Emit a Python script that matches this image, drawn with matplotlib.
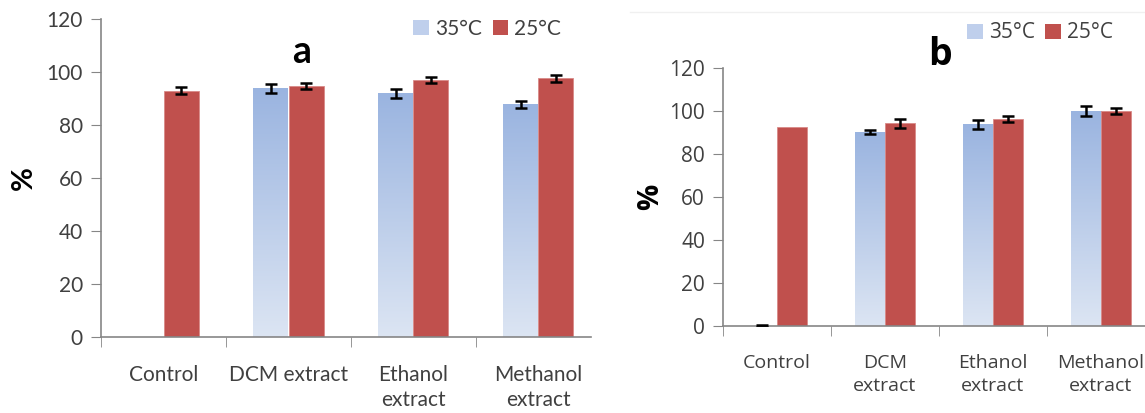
import numpy as np
import matplotlib
matplotlib.use("Agg")
from matplotlib import pyplot as plt
from matplotlib.colors import LinearSegmentedColormap
from matplotlib.patches import Patch
from matplotlib.lines import Line2D

labels_a = ["Control", "DCM extract", "Ethanol\nextract", "Methanol\nextract"]
labels_b = ["Control", "DCM\nextract", "Ethanol\nextract", "Methanol\nextract"]
series = ["35°C", "25°C"]

# panel a
a_35 = [np.nan, 93.8, 92.0, 87.8]
a_35_err = [np.nan, 1.7, 1.7, 1.3]
a_25 = [92.9, 94.7, 96.9, 97.6]
a_25_err = [1.3, 1.2, 1.2, 1.2]

# panel b
b_35 = [0.0, 90.1, 93.8, 99.8]
b_35_err = [0.6, 0.9, 2.1, 2.3]
b_25 = [92.6, 94.3, 96.3, 100.0]
b_25_err = [0.0, 2.0, 1.3, 1.3]

RED = "#C0504D"
TXT = "#404040"
AXC = "#868686"
blue_grad = LinearSegmentedColormap.from_list("bg", ["#DCE5F3", "#9AB4E0"])
W = 0.28


def gradient_bars(ax, bars):
    grad = np.linspace(0, 1, 256).reshape(-1, 1)
    for p in bars.patches:
        h = p.get_height()
        if not np.isfinite(h) or h <= 0:
            continue
        x0 = p.get_x()
        im = ax.imshow(grad, extent=(x0, x0 + p.get_width(), 0, h), origin="lower",
                       aspect="auto", cmap=blue_grad, zorder=2)
        im.set_clip_path(p)
        p.set_facecolor("none")


def panel(ax, labels, v35, e35, v25, e25, font, fs, letter, letter_xy, leg_xy, xmax,
          xpad, ypad):
    x = np.arange(len(labels))
    b1 = ax.bar(x - W / 2, v35, W, color="#BCCCEA", zorder=2)
    gradient_bars(ax, b1)
    ax.bar(x + W / 2, v25, W, color=RED, edgecolor="#D98A88", linewidth=0.6, zorder=2)
    ekw = dict(fmt="none", ecolor="black", elinewidth=1.8, capsize=4.5, capthick=1.8, zorder=4)
    ax.errorbar(x - W / 2, v35, yerr=e35, **ekw)
    e25 = np.array(e25, dtype=float)
    m = e25 > 0
    ax.errorbar((x + W / 2)[m], np.array(v25)[m], yerr=e25[m], **ekw)

    ax.set_xlim(-0.5, xmax)
    ax.set_ylim(0, 120)
    ax.set_yticks(np.arange(0, 121, 20))
    ax.set_xticks(x)
    ax.set_xticklabels(labels, fontsize=fs, color=TXT, family=font, linespacing=1.35)
    ax.set_xticks(np.arange(-0.5, len(labels) - 0.5, 1), minor=True)
    ax.tick_params(axis="x", which="major", length=0, pad=xpad)
    ax.tick_params(axis="x", which="minor", length=7, color=AXC, direction="out")
    ax.tick_params(axis="y", length=7, color=AXC, labelsize=15, labelcolor=TXT, pad=6)
    for t in ax.get_yticklabels():
        t.set_family(font)
    for s in ["top", "right"]:
        ax.spines[s].set_visible(False)
    for s in ["left", "bottom"]:
        ax.spines[s].set_color(AXC)
        ax.spines[s].set_linewidth(1.2)
    ax.set_ylabel("%", fontsize=21, fontweight="bold", family=font, labelpad=ypad)

    fig.text(letter_xy[0], letter_xy[1], letter, fontsize=27, fontweight="bold",
             family=font, ha="center", va="center")
    handles = [Patch(facecolor="#BFCFEC"), Patch(facecolor=RED)]
    ax.legend(handles, series, loc="center right", bbox_to_anchor=leg_xy,
              bbox_transform=fig.transFigure, ncol=2, frameon=False,
              handlelength=0.75, handleheight=0.75, handletextpad=0.3,
              columnspacing=0.5, prop={"family": font, "size": 15}, labelcolor=TXT)


fig = plt.figure(figsize=(11.45, 4.13), dpi=100)
ax_a = fig.add_axes([101 / 1145, 76 / 413, 490 / 1145, 318 / 413])
ax_b = fig.add_axes([723 / 1145, 87 / 413, 432 / 1145, 258 / 413])

panel(ax_a, labels_a, a_35, a_35_err, a_25, a_25_err, "Lato", 15, "a",
      (302 / 1145, 1 - 52 / 413), (580 / 1145, 1 - 29 / 413), 3.42, 20, 7)
panel(ax_b, labels_b, b_35, b_35_err, b_25, b_25_err, "Open Sans", 14, "b",
      (940 / 1145, 1 - 55 / 413), (1132 / 1145, 1 - 33 / 413), 3.5, 20, 3)

fig.add_artist(Line2D([630 / 1145, 1], [1 - 12 / 413] * 2, color="#F0F0F0", lw=1))

fig.savefig("out.png", dpi=100)
